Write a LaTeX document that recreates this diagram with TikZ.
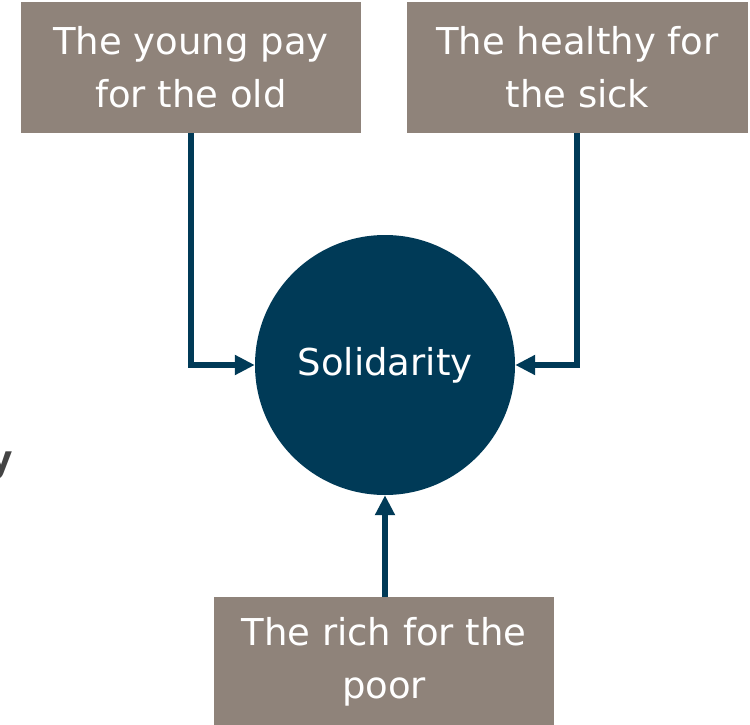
\documentclass[tikz,border=0pt]{standalone}
\usepackage{fontspec}
\setmainfont{DejaVu Sans}
\usetikzlibrary{arrows.meta}
\definecolor{boxgray}{RGB}{143,131,122}
\definecolor{navy}{RGB}{0,58,87}
\definecolor{stray}{RGB}{68,68,68}
\tikzset{
  tbox/.style={rectangle, fill=boxgray, text=white, font=\fontsize{37}{53}\selectfont, align=center, inner sep=0pt},
  conn/.style={draw=navy, line width=5.5pt, -{Triangle[length=20pt,width=19pt]}}
}
\begin{document}
\begin{tikzpicture}[x=1pt,y=-1pt]
\useasboundingbox (0,0) rectangle (750,725);
\node[tbox, minimum width=340pt, minimum height=131pt] (young) at (191,67.5) {The young pay\\for the old};
\node[tbox, minimum width=341pt, minimum height=131pt] (healthy) at (577.5,67.5) {The healthy for\\the sick};
\node[tbox, minimum width=340pt, minimum height=130pt] (rich) at (384,662) {The rich for the\\poor};
\node[circle, fill=navy, text=white, minimum size=260pt, inner sep=0pt, font=\fontsize{37}{42}\selectfont] (sol) at (385,365) {Solidarity};
\node[text=stray, font=\bfseries\fontsize{36}{40}\selectfont, anchor=east, inner sep=0pt] (y) at (13,466) {y};
\draw[conn] (young.south -| 191,0) |- (sol.west);
\draw[conn] (healthy.south -| 577,0) |- (sol.east);
\draw[conn] (rich.north -| 385,0) -- (sol.south);
\end{tikzpicture}
\end{document}
